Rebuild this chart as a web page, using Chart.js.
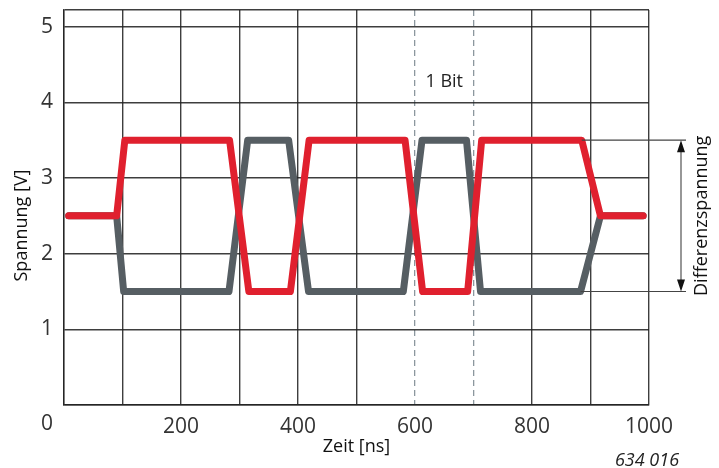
<!DOCTYPE html>
<html><head><meta charset="utf-8">
<style>html,body{margin:0;padding:0;background:#fff;}#wrap{width:719px;height:468px;}</style>
<script src="https://cdn.jsdelivr.net/npm/chart.js@4.4.0/dist/chart.umd.min.js"></script>
</head><body><div id="wrap"><canvas id="c" width="719" height="468"></canvas></div>
<script>
// ---- data ----
const timeRed  = [8, 90, 104, 283, 316, 387, 419, 583, 613, 690, 714, 885, 917, 990];
const voltRed  = [2.5, 2.5, 3.5, 3.5, 1.5, 1.5, 3.5, 3.5, 1.5, 1.5, 3.5, 3.5, 2.5, 2.5];
const timeGray = [8, 90, 102, 282, 314, 384, 418, 580, 612, 688, 712, 883, 917, 990];
const voltGray = [2.5, 2.5, 1.5, 1.5, 3.5, 3.5, 1.5, 1.5, 3.5, 3.5, 1.5, 1.5, 2.5, 2.5];
const xGridValues = [0, 100, 200, 300, 400, 500, 600, 700, 800, 900, 1000];
const xTickLabels = ['', '', '200', '', '400', '', '600', '', '800', '', '1000'];
const yGridValues = [0, 1, 2, 3, 4, 5, 5.22];
const yTickLabels = ['', '1', '2', '3', '4', '5', ''];
const bitMarks = [600, 700];
const bitLabel = '1 Bit';
const diffHigh = 3.5, diffLow = 1.5;
const xTitle = 'Zeit [ns]';
const yTitle = 'Spannung [V]';
const diffTitle = 'Differenzspannung';
const originLabel = '0';
const figureNo = '634 016';

const FONT = "'Open Sans', 'DejaVu Sans', sans-serif";
Chart.defaults.font.family = FONT;
const GRID = 'rgba(35,35,35,0.88)';

const toPts = (xs, ys) => xs.map((v, i) => ({x: v, y: ys[i]}));

const annot = {
  id: 'annot',
  afterDraw(chart) {
    const {ctx, chartArea: a, scales: {x, y}} = chart;
    ctx.save();
    // Differenzspannung guide lines
    const yH = y.getPixelForValue(diffHigh), yL = y.getPixelForValue(diffLow);
    const xEnd = a.right + 37, xArr = a.right + 32;
    ctx.strokeStyle = '#444'; ctx.lineWidth = 1.1;
    ctx.beginPath();
    ctx.moveTo(x.getPixelForValue(timeRed[11]), yH); ctx.lineTo(xEnd, yH);
    ctx.moveTo(x.getPixelForValue(timeGray[11]), yL); ctx.lineTo(xEnd, yL);
    ctx.moveTo(xArr, yH + 6); ctx.lineTo(xArr, yL - 6);
    ctx.stroke();
    ctx.fillStyle = '#111';
    ctx.beginPath();
    ctx.moveTo(xArr, yH); ctx.lineTo(xArr - 4, yH + 12); ctx.lineTo(xArr + 4, yH + 12); ctx.closePath();
    ctx.moveTo(xArr, yL); ctx.lineTo(xArr - 4, yL - 12); ctx.lineTo(xArr + 4, yL - 12); ctx.closePath();
    ctx.fill();
    // rotated labels
    ctx.fillStyle = '#111';
    ctx.font = '18px ' + FONT;
    ctx.textAlign = 'center'; ctx.textBaseline = 'middle';
    ctx.save();
    ctx.translate(a.right + 53, y.getPixelForValue((diffHigh + diffLow) / 2));
    ctx.rotate(-Math.PI / 2);
    ctx.fillText(diffTitle, 0, 0);
    ctx.restore();
    ctx.save();
    ctx.translate(22, (a.top + a.bottom) / 2 + 18);
    ctx.rotate(-Math.PI / 2);
    ctx.fillText(yTitle, 0, 0);
    ctx.restore();
    // 1 Bit
    ctx.fillStyle = '#222';
    ctx.fillText(bitLabel, (x.getPixelForValue(bitMarks[0]) + x.getPixelForValue(bitMarks[1])) / 2, y.getPixelForValue(4.27));
    // origin 0
    ctx.fillStyle = '#333';
    ctx.font = '21px ' + FONT;
    ctx.textBaseline = 'top';
    ctx.fillText(originLabel, a.left - 17, a.bottom + 9);
    // figure number
    ctx.font = 'italic 18px ' + FONT;
    ctx.textBaseline = 'middle';
    ctx.fillStyle = '#222';
    ctx.fillText(figureNo, 647, 461);
    ctx.restore();
  }
};

new Chart(document.getElementById('c'), {
  type: 'line',
  data: {
    datasets: [
      {data: toPts(timeRed, voltRed), borderColor: '#e0202e', borderWidth: 7, pointRadius: 0,
       tension: 0, borderJoinStyle: 'round', borderCapStyle: 'round', fill: false},
      {data: toPts(timeGray, voltGray), borderColor: '#565e63', borderWidth: 7, pointRadius: 0,
       tension: 0, borderJoinStyle: 'round', borderCapStyle: 'round', fill: false}
    ]
  },
  options: {
    responsive: false, animation: false, devicePixelRatio: 1,
    layout: {padding: {left: 0, top: 10, right: 70, bottom: 0}},
    plugins: {legend: {display: false}, tooltip: {enabled: false}},
    scales: {
      x: {
        type: 'linear', position: 'bottom', min: 0, max: 1000,
        afterBuildTicks: s => { s.ticks = xGridValues.map(v => ({value: v})); },
        afterFit: s => { s.height = 63; s.paddingLeft = 0; s.paddingRight = 0; },
        ticks: {autoSkip: false, maxRotation: 0, padding: 9, color: '#333', font: {size: 21},
                callback: (v, i) => xTickLabels[i]},
        grid: {drawTicks: false, lineWidth: 1.4,
               color: c => (c.tick && bitMarks.includes(c.tick.value)) ? 'rgba(0,0,0,0)' : GRID},
        border: {display: true, color: GRID, width: 1.4},
        title: {display: true, text: xTitle, color: '#111', font: {size: 18}, padding: {top: 0, bottom: 10}}
      },
      xb: {
        type: 'linear', position: 'bottom', min: 0, max: 1000,
        afterBuildTicks: s => { s.ticks = bitMarks.map(v => ({value: v})); },
        afterFit: s => { s.height = 0; s.paddingLeft = 0; s.paddingRight = 0; },
        ticks: {display: false},
        grid: {drawTicks: false, lineWidth: 1.3, color: '#8c979e'},
        border: {display: false, dash: [6, 4]}
      },
      y: {
        type: 'linear', position: 'left', min: 0, max: yGridValues[yGridValues.length - 1],
        afterBuildTicks: s => { s.ticks = yGridValues.map(v => ({value: v})); },
        afterFit: s => { s.width = 64; s.paddingTop = 0; s.paddingBottom = 0; },
        ticks: {padding: 11, color: '#333', font: {size: 21}, callback: (v, i) => yTickLabels[i]},
        grid: {drawTicks: false, lineWidth: 1.4, color: GRID},
        border: {display: true, color: GRID, width: 1.4}
      }
    }
  },
  plugins: [annot]
});
</script></body></html>
